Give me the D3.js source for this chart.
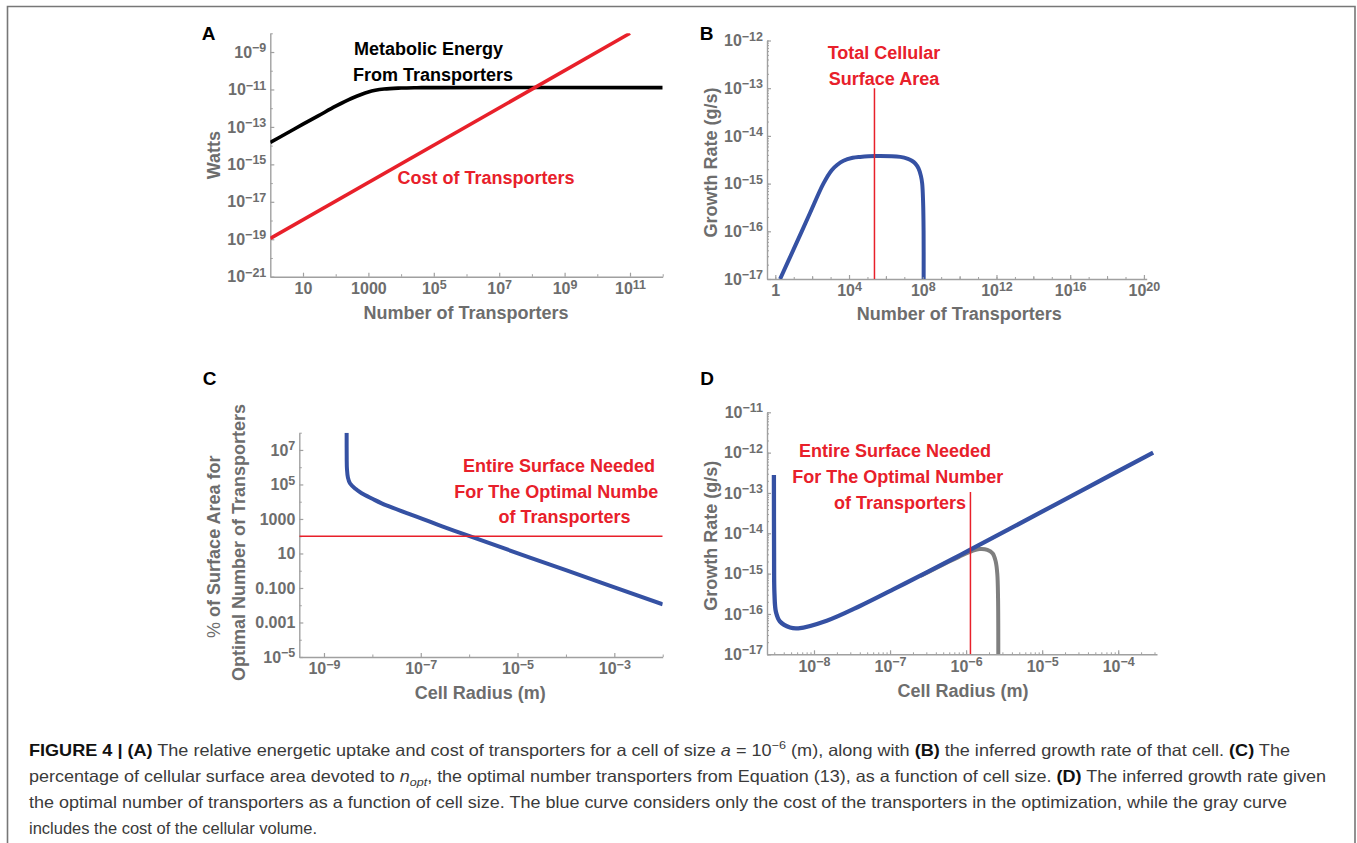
<!DOCTYPE html>
<html><head><meta charset="utf-8">
<script src="https://cdnjs.cloudflare.com/ajax/libs/d3/7.8.5/d3.min.js"></script>
<style>
body{margin:0;background:#fff}
svg{display:block}
text{font-family:Arial,"Liberation Sans",Helvetica,sans-serif}
</style>
</head><body>
<svg id="c" width="1357" height="843"></svg>
<script>
// ================= DATA =================
// Panel A: Watts vs number of transporters
const aXTicks = [1e1, 1e3, 1e5, 1e7, 1e9, 1e11];
const aXTickLabels = ["10", "1000", "10^5", "10^7", "10^9", "10^11"];
const aXMinorTicks = [1e2, 1e4, 1e6, 1e8, 1e10, 1e12];
const aYTicks = [1e-9, 1e-11, 1e-13, 1e-15, 1e-17, 1e-19, 1e-21];
const aYTickLabels = ["10^−9", "10^−11", "10^−13", "10^−15", "10^−17", "10^−19", "10^−21"];
const aYMinorTicks = [1e-8, 1e-10, 1e-12, 1e-14, 1e-16, 1e-18, 1e-20];
const aMetabolicEnergy = [[1, 1.48e-14], [3, 4.3e-14], [10, 1.4e-13], [30, 4.0e-13], [100, 1.28e-12],
  [300, 3.3e-12], [1000, 7.4e-12], [3000, 1.05e-11], [1e4, 1.19e-11], [3e4, 1.24e-11], [1e5, 1.26e-11], [1e12, 1.26e-11]];
const aTransporterCost = [[1, 1.1e-19], [1e11, 1e-8]];

// Panel B: growth rate vs number of transporters
const bXTicks = [1, 1e4, 1e8, 1e12, 1e16, 1e20];
const bXTickLabels = ["1", "10^4", "10^8", "10^12", "10^16", "10^20"];
const bXMidTicks = [1e2, 1e6, 1e10, 1e14, 1e18];
const bYTicks = [1e-12, 1e-13, 1e-14, 1e-15, 1e-16, 1e-17];
const bYTickLabels = ["10^−12", "10^−13", "10^−14", "10^−15", "10^−16", "10^−17"];
const bGrowth = [[1.82, 1e-17], [9.55, 4.07e-17], [77.6, 2.45e-16], [407, 1e-15], [1150, 1.91e-15],
  [2240, 2.45e-15], [5010, 3.02e-15], [1.58e4, 3.47e-15], [3.98e4, 3.63e-15], [2.63e5, 3.8e-15],
  [6.03e6, 3.63e-15], [1.58e7, 3.31e-15], [2.57e7, 3.02e-15], [3.98e7, 2.63e-15], [5.89e7, 2.09e-15],
  [7.94e7, 1.45e-15], [9.33e7, 1e-15], [1.047e8, 3.98e-16], [1.11e8, 1e-16], [1.12e8, 1e-17]];
const bSurfaceN = 2.4e5, bSurfaceTop = 1e-13;

// Panel C: % of surface area vs cell radius
const cXTicks = [1e-9, 1e-7, 1e-5, 1e-3];
const cXTickLabels = ["10^−9", "10^−7", "10^−5", "10^−3"];
const cXMinorTicks = [1e-8, 1e-6, 1e-4, 1e-2];
const cYTicks = [1e7, 1e5, 1e3, 1e1, 1e-1, 1e-3, 1e-5];
const cYTickLabels = ["10^7", "10^5", "1000", "10", "0.100", "0.001", "10^−5"];
const cYMinorTicks = [1e8, 1e6, 1e4, 1e2, 1, 1e-2, 1e-4];
const cPercent = [[2.94e-9, 1e8], [2.95e-9, 3.16e6], [2.985e-9, 7.9e5], [3.126e-9, 2.5e5], [3.44e-9, 1.17e5],
  [4.47e-9, 5.6e4], [6.01e-9, 3.1e4], [1e-8, 1.48e4], [1.556e-8, 8.1e3], [6.49e-8, 1.7e3], [3.16e-7, 331],
  [9.57e-7, 107], [1e-4, 1.07], [1e-2, 0.0112]];
const cEntireSurface = 100;

// Panel D: growth rate vs cell radius
const dXTicks = [1e-8, 1e-7, 1e-6, 1e-5, 1e-4];
const dXTickLabels = ["10^−8", "10^−7", "10^−6", "10^−5", "10^−4"];
const dYTicks = [1e-11, 1e-12, 1e-13, 1e-14, 1e-15, 1e-16, 1e-17];
const dYTickLabels = ["10^−11", "10^−12", "10^−13", "10^−14", "10^−15", "10^−16", "10^−17"];
const dBlue = [[2.97e-9, 2.8e-13], [2.985e-9, 3.2e-15], [3.02e-9, 3.2e-16], [3.16e-9, 1.12e-16], [3.57e-9, 6.5e-17],
  [4.84e-9, 4.6e-17], [6.22e-9, 4.4e-17], [1.47e-8, 6.8e-17], [4.02e-8, 1.58e-16], [1.1e-7, 4.07e-16],
  [3.03e-7, 1.07e-15], [6.76e-7, 2.34e-15], [1.12e-6, 3.89e-15], [3.57e-6, 1.23e-14], [3.16e-5, 1.1e-13],
  [2.88e-4, 1e-12]];
const dGray = [[2.51e-7, 8.7e-16], [5.01e-7, 1.7e-15], [7.94e-7, 2.57e-15], [1.12e-6, 3.47e-15], [1.51e-6, 4.07e-15],
  [1.9e-6, 3.9e-15], [2.24e-6, 3.16e-15], [2.45e-6, 2.0e-15], [2.57e-6, 1e-15], [2.63e-6, 2.5e-16], [2.65e-6, 1e-17]];
const dSurfaceR = 1.14e-6, dSurfaceTop = 1.05e-13;

// Caption
const captionLines = [
  [["b", "FIGURE 4 | (A)"], ["r", " The relative energetic uptake and cost of transporters for a cell of size "], ["i", "a"], ["r", " = 10"], ["sup", "−6"], ["r", " (m), along with "], ["b", "(B)"], ["r", " the inferred growth rate of that cell. "], ["b", "(C)"], ["r", " The"]],
  [["r", "percentage of cellular surface area devoted to "], ["i", "n"], ["sub", "opt"], ["r", ", the optimal number transporters from Equation (13), as a function of cell size. "], ["b", "(D)"], ["r", " The inferred growth rate given"]],
  [["r", "the optimal number of transporters as a function of cell size. The blue curve considers only the cost of the transporters in the optimization, while the gray curve"]],
  [["r", "includes the cost of the cellular volume."]]
];

// ================= DRAWING =================
const svg = d3.select('#c');
const AXIS = '#a0a0a0', LAB = '#6d6d6d', BLUE = '#3551a3', RED = '#e8202a', GRAYC = '#7f7f7f';

// frame
svg.append('path').attr('d', 'M7.5,850 V6.5 H1355 V850').attr('fill', 'none').attr('stroke', '#777').attr('stroke-width', 1.6);

function supLabels(sel, labels) {
  sel.selectAll('.tick text').each(function (d, i) {
    const t = d3.select(this);
    const lab = labels[i];
    t.text(null);
    const parts = lab.split('^');
    t.append('tspan').text(parts[0]);
    if (parts[1]) t.append('tspan').attr('dy', -5.5).attr('font-size', 12.5).text(parts[1]);
  });
}

function panel(p) {
  const x = d3.scaleLog().domain(p.xDomain).range(p.xRange);
  const y = d3.scaleLog().domain(p.yDomain).range(p.yRange);
  const g = svg.append('g');
  const cid = 'clip' + p.id;
  svg.append('clipPath').attr('id', cid).append('rect')
    .attr('x', p.xRange[0]).attr('y', p.yRange[1])
    .attr('width', p.xRange[1] - p.xRange[0]).attr('height', p.yRange[0] - p.yRange[1]);

  const addMinor = (ticks, size, axisFn, transform) => {
    const mg = g.append('g').attr('transform', transform)
      .call(axisFn.tickValues(ticks).tickFormat('').tickSize(-size).tickSizeOuter(0));
    mg.select('.domain').remove();
    mg.selectAll('line').attr('stroke', AXIS).attr('stroke-width', 1);
  };
  (p.xMinor || []).forEach(m => addMinor(m[0], m[1], d3.axisBottom(x), `translate(0,${p.yRange[0]})`));
  (p.yMinor || []).forEach(m => addMinor(m[0], m[1], d3.axisLeft(y), `translate(${p.xRange[0]},0)`));

  const xa = g.append('g').attr('transform', `translate(0,${p.yRange[0]})`)
    .call(d3.axisBottom(x).tickValues(p.xTicks).tickFormat((d, i) => p.xLabels[i]).tickSize(-4).tickSizeOuter(0).tickPadding(6));
  const ya = g.append('g').attr('transform', `translate(${p.xRange[0]},0)`)
    .call(d3.axisLeft(y).tickValues(p.yTicks).tickFormat((d, i) => p.yLabels[i]).tickSize(-4).tickSizeOuter(0).tickPadding(4));
  [xa, ya].forEach(a => {
    a.attr('font-family', null).attr('font-size', null);
    a.select('.domain').attr('stroke', AXIS).attr('stroke-width', 1.4);
    a.selectAll('.tick line').attr('stroke', AXIS).attr('stroke-width', 1.2);
    a.selectAll('.tick text').attr('fill', LAB).attr('font-weight', 'bold').attr('font-size', 16);
  });
  supLabels(xa, p.xLabels);
  supLabels(ya, p.yLabels);

  const plot = g.append('g').attr('clip-path', `url(#${cid})`);
  return { x, y, g, plot };
}

function series(pl, data, color, width) {
  const line = d3.line().x(d => pl.x(d[0])).y(d => pl.y(d[1])).curve(d3.curveCatmullRom.alpha(0.5));
  pl.plot.append('path').datum(data).attr('d', line).attr('fill', 'none')
    .attr('stroke', color).attr('stroke-width', width).attr('stroke-linejoin', 'round');
}

function txt(x, y, s, opts = {}) {
  const t = svg.append('text').attr('x', x).attr('y', y).text(s)
    .attr('font-size', opts.size || 18).attr('font-weight', opts.weight || 'bold')
    .attr('fill', opts.fill || '#000').attr('text-anchor', opts.anchor || 'middle');
  if (opts.rotate) t.attr('transform', `rotate(-90,${x},${y})`);
  return t;
}

// ---------- Panel A ----------
const A = panel({
  id: 'A', xDomain: [1, 1e12], xRange: [270.3, 662.7], yDomain: [1e-21, 1e-8], yRange: [276.7, 33.3],
  xTicks: aXTicks, xLabels: aXTickLabels, yTicks: aYTicks, yLabels: aYTickLabels,
  xMinor: [[aXMinorTicks, 2.5]], yMinor: [[aYMinorTicks, 2.5]]
});
series(A, aMetabolicEnergy, '#000', 3.6);
series(A, aTransporterCost, RED, 3.6);
txt(208.5, 39.5, 'A', { size: 19 });
txt(354, 55, 'Metabolic Energy', { anchor: 'start' });
txt(353, 81, 'From Transporters', { anchor: 'start' });
txt(397.5, 184, 'Cost of Transporters', { anchor: 'start', fill: RED });
txt(466, 319, 'Number of Transporters', { fill: LAB });
txt(220, 155.2, 'Watts', { fill: LAB, rotate: true });

// ---------- Panel B ----------
const B = panel({
  id: 'B', xDomain: [Math.pow(10, -0.45), Math.pow(10, 20.15)], xRange: [767, 1146.7],
  yDomain: [1e-17, 1e-12], yRange: [279, 40.5],
  xTicks: bXTicks, xLabels: bXTickLabels, yTicks: bYTicks, yLabels: bYTickLabels,
  xMinor: [[bXMidTicks, 3]], yMinor: []
});
{
  const decades = d3.range(0, 21).map(k => Math.pow(10, k));
  const mg = B.g.append('g').attr('transform', 'translate(0,279)')
    .call(d3.axisBottom(B.x).tickValues(decades).tickFormat('').tickSize(-2).tickSizeOuter(0));
  mg.select('.domain').remove(); mg.selectAll('line').attr('stroke', AXIS);
  const yg = B.g.append('g').attr('transform', 'translate(767,0)')
    .call(d3.axisLeft(B.y).tickValues(B.y.ticks()).tickFormat('').tickSize(-2).tickSizeOuter(0));
  yg.select('.domain').remove(); yg.selectAll('line').attr('stroke', AXIS);
}
series(B, bGrowth, BLUE, 4);
B.plot.append('line').attr('x1', B.x(bSurfaceN)).attr('x2', B.x(bSurfaceN))
  .attr('y1', B.y(bSurfaceTop)).attr('y2', B.y(1e-17)).attr('stroke', RED).attr('stroke-width', 1.5);
txt(706.5, 39.5, 'B', { size: 19 });
txt(884, 59.3, 'Total Cellular', { fill: RED });
txt(884, 85, 'Surface Area', { fill: RED });
txt(959.3, 320, 'Number of Transporters', { fill: LAB });
txt(717, 162.5, 'Growth Rate (g/s)', { fill: LAB, rotate: true });

// ---------- Panel C ----------
const C = panel({
  id: 'C', xDomain: [Math.pow(10, -9.51), 1e-2], xRange: [299.3, 662.7], yDomain: [1e-5, 1e8], yRange: [657, 432.7],
  xTicks: cXTicks, xLabels: cXTickLabels, yTicks: cYTicks, yLabels: cYTickLabels,
  xMinor: [[cXMinorTicks, 2.5]], yMinor: [[cYMinorTicks, 2.5]]
});
series(C, cPercent, BLUE, 4);
C.plot.append('line').attr('x1', 299.3).attr('x2', 662.7)
  .attr('y1', C.y(cEntireSurface)).attr('y2', C.y(cEntireSurface)).attr('stroke', RED).attr('stroke-width', 1.5);
txt(209.5, 384.5, 'C', { size: 19 });
txt(559, 471.7, 'Entire Surface Needed', { fill: RED });
txt(454.3, 497.7, 'For The Optimal Numbe', { fill: RED, anchor: 'start' });
txt(564.5, 523, 'of Transporters', { fill: RED });
txt(480.3, 699.3, 'Cell Radius (m)', { fill: LAB });
{
  const t = txt(220.5, 546.7, '', { fill: LAB, rotate: true });
  t.append('tspan').attr('font-weight', 'normal').text('%');
  t.append('tspan').text(' of Surface Area for');
}
txt(244.5, 542.5, 'Optimal Number of Transporters', { fill: LAB, rotate: true });

// ---------- Panel D ----------
const D = panel({
  id: 'D', xDomain: [Math.pow(10, -8.618), Math.pow(10, -3.49)], xRange: [767, 1157],
  yDomain: [1e-17, 1e-11], yRange: [654.3, 412.3],
  xTicks: dXTicks, xLabels: dXTickLabels, yTicks: dYTicks, yLabels: dYTickLabels, xMinor: [], yMinor: []
});
{
  const xg = D.g.append('g').attr('transform', 'translate(0,654.3)')
    .call(d3.axisBottom(D.x).tickValues(D.x.ticks()).tickFormat('').tickSize(-2).tickSizeOuter(0));
  xg.select('.domain').remove(); xg.selectAll('line').attr('stroke', AXIS);
  const yg = D.g.append('g').attr('transform', 'translate(767,0)')
    .call(d3.axisLeft(D.y).tickValues(D.y.ticks()).tickFormat('').tickSize(-2).tickSizeOuter(0));
  yg.select('.domain').remove(); yg.selectAll('line').attr('stroke', AXIS);
}
series(D, dGray, GRAYC, 4);
series(D, dBlue, BLUE, 4.3);
D.plot.append('line').attr('x1', D.x(dSurfaceR)).attr('x2', D.x(dSurfaceR))
  .attr('y1', D.y(dSurfaceTop)).attr('y2', D.y(1e-17)).attr('stroke', RED).attr('stroke-width', 1.5);
txt(707, 384.5, 'D', { size: 19 });
txt(895, 457.3, 'Entire Surface Needed', { fill: RED });
txt(897.7, 483.3, 'For The Optimal Number', { fill: RED });
txt(900, 509, 'of Transporters', { fill: RED });
txt(963, 697.3, 'Cell Radius (m)', { fill: LAB });
txt(717, 535.8, 'Growth Rate (g/s)', { fill: LAB, rotate: true });

// ---------- Caption ----------
const capBase = [756, 782, 808, 834];
const capWidths = [1261, 1297, 1258, null];
captionLines.forEach((segs, li) => {
  const t = svg.append('text').attr('x', 29).attr('y', capBase[li]).attr('font-size', 16.5).attr('fill', '#3a3a3a');
  if (capWidths[li]) t.attr('textLength', capWidths[li]).attr('lengthAdjust', 'spacingAndGlyphs');
  let shift = 0;
  segs.forEach(([k, s]) => {
    const ts = t.append('tspan').text(s);
    let target = 0;
    if (k === 'b') ts.attr('font-weight', 'bold').attr('fill', '#111');
    if (k === 'i') ts.attr('font-style', 'italic');
    if (k === 'sup') { ts.attr('font-size', 11.5); target = -7; }
    if (k === 'sub') { ts.attr('font-size', 11.5).attr('font-style', 'italic'); target = 4; }
    if (target !== shift) { ts.attr('dy', target - shift); shift = target; }
  });
});
</script>
</body></html>
